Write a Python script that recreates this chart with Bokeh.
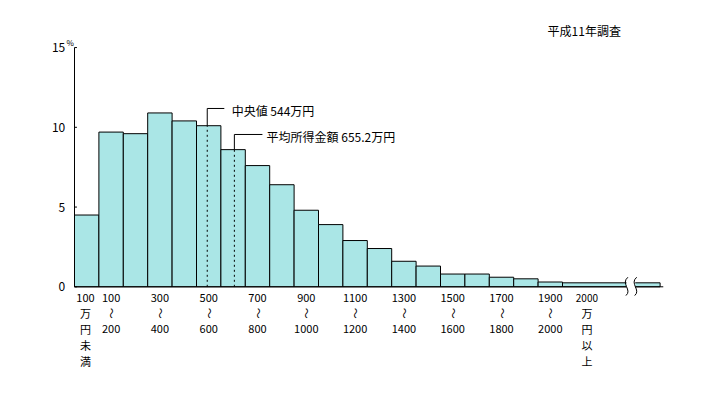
import math
from bokeh.plotting import figure
from bokeh.models import ColumnDataSource, Range1d
from bokeh.core.properties import value
from bokeh.embed import file_html
from bokeh.resources import INLINE

# ---------------- data ----------------
categories = ["100万円未満", "100～200", "200～300", "300～400", "400～500", "500～600",
              "600～700", "700～800", "800～900", "900～1000", "1000～1100", "1100～1200",
              "1200～1300", "1300～1400", "1400～1500", "1500～1600", "1600～1700",
              "1700～1800", "1800～1900", "1900～2000", "2000万円以上"]
shares = [4.5, 9.7, 9.6, 10.9, 10.4, 10.1, 8.6, 7.6, 6.4, 4.8, 3.9, 2.9, 2.4,
          1.6, 1.3, 0.8, 0.8, 0.6, 0.5, 0.3, 0.25]
median_income = 544.0      # 万円
mean_income = 655.2        # 万円
y_ticks = [0, 5, 10, 15]
y_tick_labels = ["0", "5", "10", "15"]
label_bins = [0, 1, 3, 5, 7, 9, 11, 13, 15, 17, 19, 20]
label_lines = [["100", "万", "円", "未", "満"],
               ["100", "〜", "200"], ["300", "〜", "400"], ["500", "〜", "600"],
               ["700", "〜", "800"], ["900", "〜", "1000"], ["1100", "〜", "1200"],
               ["1300", "〜", "1400"], ["1500", "〜", "1600"], ["1700", "〜", "1800"],
               ["1900", "〜", "2000"], ["2000", "万", "円", "以", "上"]]
title_text = "平成11年調査"
median_label = "中央値 544万円"
mean_label = "平均所得金額 655.2万円"

# ---------------- layout ----------------
W, H = 692, 379
PX_X = 24.4      # pixels per bin
PX_Y = 15.95     # pixels per percent
X0_CANVAS = 74.0
Y0_CANVAS = 286.3
FONT = value("Noto Sans CJK JP")

x_start = -X0_CANVAS / PX_X
x_end = x_start + W / PX_X
y_end = Y0_CANVAS / PX_Y
y_start = -(H - Y0_CANVAS) / PX_Y

p = figure(width=W, height=H, output_backend="svg", toolbar_location=None,
           x_range=Range1d(x_start, x_end), y_range=Range1d(y_start, y_end),
           min_border=0)
p.axis.visible = False
p.grid.visible = False
p.outline_line_color = None
p.background_fill_color = "white"

n = len(shares)
last_width = 4.0
lefts = list(range(n))
rights = [i + 1 for i in range(n - 1)] + [n - 1 + last_width]
bars = ColumnDataSource(dict(left=lefts, right=rights, top=shares,
                             bottom=[0] * n, cat=categories))
FILL = "#aae6e6"
p.quad(left="left", right="right", top="top", bottom="bottom", source=bars,
       fill_color=FILL, line_color="black", line_width=1)

# x axis line
axis_end = n - 1 + last_width + 0.13
p.segment(x0=[0], y0=[0], x1=[axis_end], y1=[0], line_color="black", line_width=1)
# y axis line + ticks
p.segment(x0=[0], y0=[0], x1=[0], y1=[y_ticks[-1]], line_color="black", line_width=1)
p.segment(x0=[0] * len(y_ticks), y0=y_ticks, x1=[0.1] * len(y_ticks), y1=y_ticks,
          line_color="black", line_width=1)
p.text(x=[-0.38] * len(y_ticks), y=y_ticks, text=y_tick_labels, text_font=FONT,
       text_font_size="12px", text_align="right", text_baseline="middle",
       text_color="black")
p.text(x=[-0.33], y=[y_ticks[-1] + 0.3], text=["%"], text_font=FONT,
       text_font_size="8px", text_align="left", text_baseline="middle", text_color="black")

# broken axis on the last class
brk_a = n - 1 + 2.62
brk_b = n - 1 + 2.98
p.quad(left=[brk_a], right=[brk_b], bottom=[-0.4], top=[0.6], fill_color="white",
       line_color=None)
for bx in (brk_a, brk_b):
    p.bezier(x0=[bx + 0.06], y0=[0.6], x1=[bx - 0.02], y1=[-0.55],
             cx0=[bx - 0.25], cy0=[0.2], cx1=[bx + 0.25], cy1=[-0.2],
             line_color="black", line_width=1)

# category labels
lx, ly, lt, la, ls = [], [], [], [], []
for b, lines in zip(label_bins, label_lines):
    cx = b + 0.5
    if b == 0:
        cx = 0.45
    if b == n - 1:
        cx = b + 1.0
    for k, t in enumerate(lines):
        lx.append(cx)
        ly.append(-(10.7 + 15.75 * k) / PX_Y)
        lt.append(t)
        la.append(math.pi / 2 if t == "〜" else 0.0)
        ls.append("10px" if (b == n - 1 and k == 0) else "11px")
lab = ColumnDataSource(dict(x=lx, y=ly, text=lt, angle=la, size=ls))
p.text(x="x", y="y", text="text", angle="angle", source=lab, text_font=FONT,
       text_font_size="size", text_align="center", text_baseline="middle",
       text_color="black")

# median / mean annotations
def bin_pos(v):
    return v / 100.0

for v, lab_text, line_y, line_len, txt_dx in (
        (median_income, median_label, 11.18, 0.7, 1.0),
        (mean_income, mean_label, 9.55, 1.15, 1.32)):
    xv = bin_pos(v)
    top = shares[int(xv)]
    p.segment(x0=[xv], y0=[0], x1=[xv], y1=[top], line_color="black",
              line_width=1, line_dash="2 3")
    p.line(x=[xv, xv, xv + line_len], y=[top, line_y, line_y], line_color="black",
           line_width=1)
    p.text(x=[xv + txt_dx], y=[line_y - 0.13], text=[lab_text], text_font=FONT,
           text_font_size="12px", text_align="left", text_baseline="middle",
           text_color="black")

# title
p.text(x=[19.39], y=[16.07], text=[title_text], text_font=FONT, text_font_size="12px",
       text_align="left", text_baseline="middle", text_color="black")

open("out.html", "w").write(file_html(p, INLINE))
